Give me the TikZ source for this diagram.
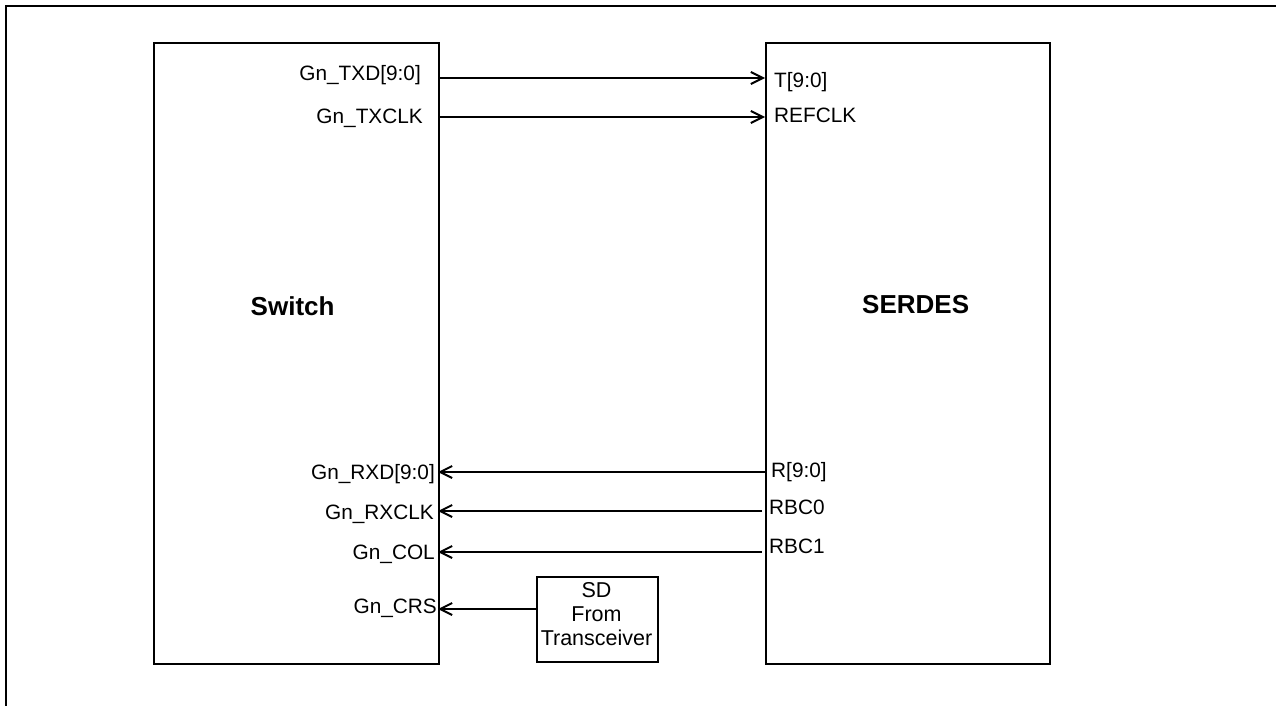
\documentclass[tikz,border=0pt]{standalone}
\usepackage{fontspec}
\setmainfont{Liberation Sans}
\usetikzlibrary{arrows.meta}
\begin{document}
\begin{tikzpicture}[x=1pt,y=-1pt,
  blk/.style={draw, line width=2pt, inner sep=0pt, anchor=north west},
  lbl/.style={font=\fontsize{20.8}{24}\selectfont, inner sep=0pt},
  big/.style={font=\fontsize{26}{30}\selectfont\bfseries, inner sep=0pt, anchor=base west},
  sig/.style={line width=2pt, -{Straight Barb[length=12pt,width=12pt]}},
  wire/.style={line width=2pt}]
\useasboundingbox (0,0) rectangle (1276,706);
\draw[line width=2.8pt] (6,706) -- (6,6) -- (1276,6);
% blocks
\node[blk, minimum width=285pt, minimum height=621pt] (sw) at (153,42) {};
\node[blk, minimum width=284pt, minimum height=621pt] (sd) at (765,42) {};
\node[blk, minimum width=121pt, minimum height=85pt] (tr) at (536,576) {};
\node[lbl, align=center, font=\fontsize{21.5}{24}\selectfont, anchor=base] (trt) at (596.5,645) {SD\\From\\Transceiver};
\node[big] (swl) at (250.5,315) {Switch};
\node[big] (sdl) at (862,313) {SERDES};
% switch labels
\node[lbl, anchor=base east] (l1) at (421,81) {Gn\_TXD[9:0]};
\node[lbl, anchor=base east] (l2) at (423,124) {Gn\_TXCLK};
\node[lbl, anchor=base east] (l3) at (435,479) {Gn\_RXD[9:0]};
\node[lbl, anchor=base east] (l4) at (434,519) {Gn\_RXCLK};
\node[lbl, anchor=base east] (l5) at (435,559) {Gn\_COL};
\node[lbl, anchor=base east] (l6) at (437,613) {Gn\_CRS};
% serdes labels
\node[lbl, anchor=base west] (r1) at (774,88) {T[9:0]};
\node[lbl, anchor=base west] (r2) at (774,123) {REFCLK};
\node[lbl, anchor=base west] (r3) at (771,477) {R[9:0]};
\node[lbl, anchor=base west] (r4) at (769,514) {RBC0};
\node[lbl, anchor=base west] (r5) at (769,553) {RBC1};
% connector ends
\coordinate (a1) at (438,78);  \coordinate (b1) at (765,78);
\coordinate (a2) at (438,117); \coordinate (b2) at (765,117);
\coordinate (a3) at (438,472); \coordinate (b3) at (765,472);
\coordinate (a4) at (438,511); \coordinate (b4) at (762,511);
\coordinate (a5) at (438,552); \coordinate (b5) at (762,552);
\coordinate (a6) at (438,609); \coordinate (b6) at (tr.west |- a6);
\draw[sig] (a1) -- (b1);
\draw[sig] (a2) -- (b2);
\draw[sig] (b3) -- (a3);
\draw[sig] (b4) -- (a4);
\draw[sig] (b5) -- (a5);
\draw[sig] (b6) -- (a6);
\end{tikzpicture}
\end{document}
